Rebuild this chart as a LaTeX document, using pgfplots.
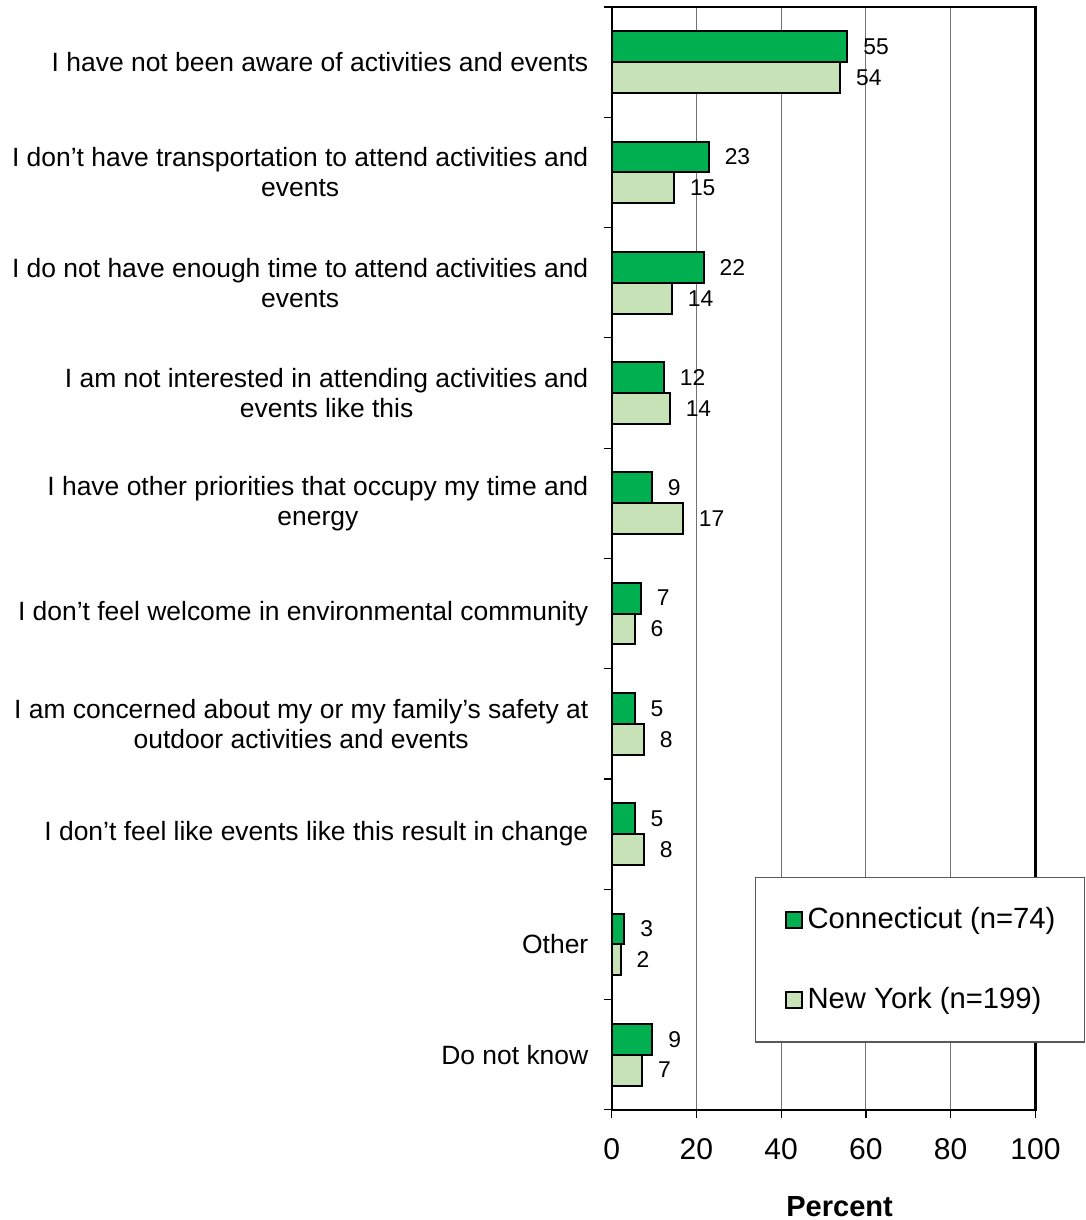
\documentclass[border=0pt]{standalone}
\usepackage{fontspec}
\setmainfont{Liberation Sans}
\usepackage{pgfplots}
\pgfplotsset{compat=1.18}
\definecolor{ctgreen}{HTML}{00B050}
\definecolor{nygreen}{HTML}{C8E2B8}
\begin{document}
\begin{tikzpicture}
\begin{axis}[
 scale only axis, width=211.5pt, height=550.5pt,
 xmin=0, xmax=100, ymin=-0.5, ymax=9.5, y dir=reverse,
 xbar, bar width=0.28,
 xtick={0,20,...,100}, minor xtick={0,20,...,100},
 ytick={0,...,9}, minor ytick={-0.5,0.5,...,9.5},
 yticklabels={
  {I have not been aware of activities and events},
  {I don’t have transportation to attend activities and\\events},
  {I do not have enough time to attend activities and\\events},
  {I am not interested in attending activities and\\events like this},
  {I have other priorities that occupy my time and\\energy},
  {I don’t feel welcome in environmental community},
  {I am concerned about my or my family’s safety at\\outdoor activities and events},
  {I don’t feel like events like this result in change},
  {Other},
  {Do not know}},
 major tick length=0pt, minor tick length=4pt, tick align=outside,
 xtick pos=bottom, ytick pos=left,
 xmajorgrids, grid style={black!55, line width=0.5pt},
 axis line style={line width=1.1pt},
 tick style={black, line width=0.6pt},
 /pgf/number format/assume math mode=true,
 xticklabel style={font=\fontsize{15}{17}\selectfont, inner sep=0pt, yshift=-14pt},
 yticklabel style={font=\fontsize{13.2}{15}\selectfont, align=center, inner sep=0pt, xshift=-11.5pt},
 xlabel={\textbf{Percent}},
 xlabel style={font=\fontsize{14.5}{17}\selectfont, inner sep=0pt, text depth=2pt, yshift=-18pt, xshift=8pt},
 nodes near coords, point meta=explicit,
 nodes near coords style={font=\fontsize{11.4}{13}\selectfont, anchor=west, inner sep=0pt, xshift=7.5pt, text=black},
 legend style={at={(0.338,0.061)}, anchor=south west, draw=gray!70!black, line width=0.6pt,
   inner xsep=14.5pt, inner ysep=15pt, row sep=28pt, column sep=2.5pt,
   font=\fontsize{14.6}{17}\selectfont, nodes={inner sep=0pt}},
 legend cell align=left,
 legend image code/.code={\draw[#1, line width=1pt] (0pt,-4pt) rectangle (8pt,4pt);},
 clip=false,
]
\addplot[fill=ctgreen, draw=black, line width=1pt, bar shift=-0.14] coordinates {
 (55.6,0) [55] (22.9,1) [23] (21.7,2) [22] (12.3,3) [12] (9.5,4) [9]
 (6.9,5) [7] (5.4,6) [5] (5.4,7) [5] (3.0,8) [3] (9.6,9) [9]};
\addlegendentry{Connecticut (n=74)}
\addplot[fill=nygreen, draw=black, line width=1pt, bar shift=0.14] coordinates {
 (53.9,0) [54] (14.7,1) [15] (14.2,2) [14] (13.7,3) [14] (16.8,4) [17]
 (5.4,5) [6] (7.6,6) [8] (7.6,7) [8] (2.1,8) [2] (7.2,9) [7]};
\addlegendentry{New York (n=199)}
\end{axis}
\path ([yshift=3.5pt]current axis.north);
\path ([xshift=-6pt]current bounding box.west);
\end{tikzpicture}
\end{document}
